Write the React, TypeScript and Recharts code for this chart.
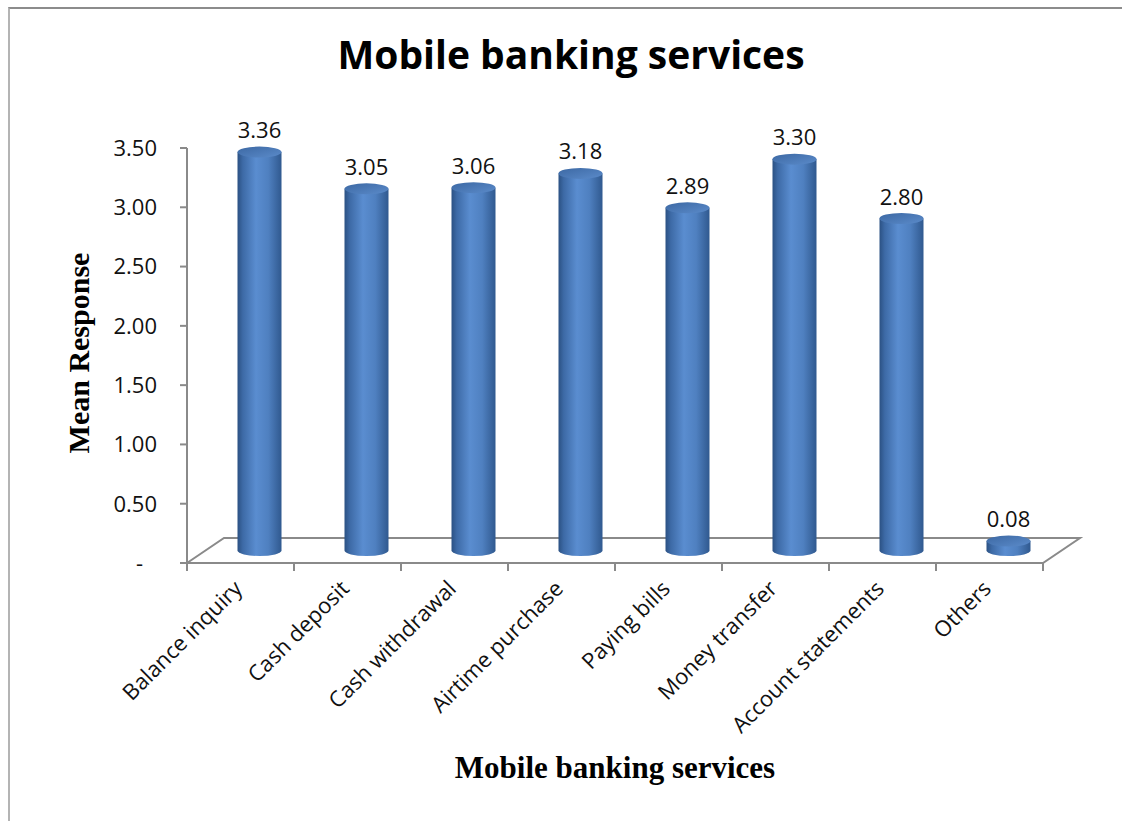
import { BarChart, Bar, XAxis, YAxis, LabelList, Customized } from 'recharts';

const categories = [
  'Balance inquiry',
  'Cash deposit',
  'Cash withdrawal',
  'Airtime purchase',
  'Paying bills',
  'Money transfer',
  'Account statements',
  'Others',
];
const meanResponse = [3.36, 3.05, 3.06, 3.18, 2.89, 3.3, 2.8, 0.08];
const yTicks = [0, 0.5, 1, 1.5, 2, 2.5, 3, 3.5];

const chartTitle = 'Mobile banking services';
const yTitle = 'Mean Response';
const xTitle = 'Mobile banking services';

const data = categories.map((name, i) => ({ name, value: meanResponse[i] }));

// layout
const W = 1122;
const H = 821;
const PLOT = { left: 187, top: 148, right: 1043, bottom: 563 };
const DEPTH = { dx: 37, dy: -25 };
const Y_AXIS_W = 80;
const X_AXIS_H = 150;
const BAND = (PLOT.right - PLOT.left) / categories.length;
const AXIS_GRAY = '#8a8a8a';
const TICK_FONT = '"Open Sans", sans-serif';

function Cylinder(props: any) {
  const { x, y, width, height } = props;
  if (x == null || y == null) return null;
  const rx = width / 2;
  const ry = 5.5;
  const cx = x + rx + DEPTH.dx / 2;
  const top = y + DEPTH.dy / 2;
  const base = y + height + DEPTH.dy / 2;
  const body = `M${cx - rx},${top} L${cx - rx},${base} A${rx},${ry} 0 0 0 ${cx + rx},${base} L${cx + rx},${top} Z`;
  return (
    <g>
      <path d={body} fill="url(#cylBody)" />
      <ellipse cx={cx} cy={top} rx={rx} ry={ry} fill="url(#cylTop)" />
    </g>
  );
}

function ValueLabel(props: any) {
  const { x, y, width, value } = props;
  return (
    <text
      x={x + width / 2 + DEPTH.dx / 2}
      y={y + DEPTH.dy / 2 - 14}
      textAnchor="middle"
      fontFamily={TICK_FONT}
      fontSize={22}
      fill="#111"
    >
      {Number(value).toFixed(2)}
    </text>
  );
}

function YTick(props: any) {
  const { x, y, payload } = props;
  const zero = payload.value === 0;
  return (
    <text
      x={zero ? x - 14 : x}
      y={y}
      dy="0.36em"
      textAnchor="end"
      fontFamily={TICK_FONT}
      fontSize={22}
      fill="#111"
    >
      {zero ? '-' : payload.value.toFixed(2)}
    </text>
  );
}

function XTick(props: any) {
  const { x, y, payload, index } = props;
  const half = BAND / 2;
  const last = index === categories.length - 1;
  return (
    <g>
      <line x1={x - half} x2={x - half} y1={y} y2={y + 8} stroke={AXIS_GRAY} strokeWidth={2} />
      {last && <line x1={x + half} x2={x + half} y1={y} y2={y + 8} stroke={AXIS_GRAY} strokeWidth={2} />}
      <text
        x={x + 3}
        y={y + 27}
        textAnchor="end"
        transform={`rotate(-45, ${x + 3}, ${y + 27})`}
        fontFamily={TICK_FONT}
        fontSize={22}
        fill="#111"
      >
        {payload.value}
      </text>
    </g>
  );
}

function Floor() {
  const { left, right, bottom } = PLOT;
  const pts = [
    [left, bottom],
    [left + DEPTH.dx, bottom + DEPTH.dy],
    [right + DEPTH.dx, bottom + DEPTH.dy],
    [right, bottom],
  ]
    .map((p) => p.join(','))
    .join(' ');
  return <polygon points={pts} fill="none" stroke={AXIS_GRAY} strokeWidth={2} />;
}

function Titles() {
  return (
    <g>
      <text
        x={571}
        y={69}
        textAnchor="middle"
        fontFamily='"Open Sans", sans-serif'
        fontWeight={700}
        fontSize={39}
        fill="#000"
      >
        {chartTitle}
      </text>
      <text
        x={89}
        y={353}
        textAnchor="middle"
        transform="rotate(-90, 89, 353)"
        fontFamily='"Liberation Serif", serif'
        fontWeight={700}
        fontSize={30}
        fill="#000"
      >
        {yTitle}
      </text>
      <text
        x={615}
        y={778}
        textAnchor="middle"
        fontFamily='"Liberation Serif", serif'
        fontWeight={700}
        fontSize={31}
        fill="#000"
      >
        {xTitle}
      </text>
    </g>
  );
}

export default function App() {
  return (
    <div style={{ position: 'absolute', left: 0, top: 0, width: W, height: H, background: '#fff', overflow: 'hidden' }}>
      {/* chart frame, only top and left edges are visible */}
      <div
        style={{
          position: 'absolute',
          left: 8,
          top: 7,
          width: W + 20,
          height: H + 20,
          borderTop: '2px solid #8c8c8c',
          borderLeft: '2px solid #b4b4b4',
          boxSizing: 'border-box',
        }}
      />
      <div style={{ position: 'absolute', left: 0, top: 0 }}>
        <BarChart
          width={W}
          height={H}
          data={data}
          margin={{
            top: PLOT.top,
            right: W - PLOT.right,
            bottom: H - PLOT.bottom - X_AXIS_H,
            left: PLOT.left - Y_AXIS_W,
          }}
        >
          <defs>
            <linearGradient id="cylBody" x1="0" y1="0" x2="1" y2="0">
              <stop offset="0%" stopColor="#2b5183" />
              <stop offset="12%" stopColor="#3d6aa6" />
              <stop offset="42%" stopColor="#5a8dd0" />
              <stop offset="70%" stopColor="#4f80c0" />
              <stop offset="100%" stopColor="#30598f" />
            </linearGradient>
            <linearGradient id="cylTop" x1="0" y1="0" x2="1" y2="1">
              <stop offset="0%" stopColor="#3c68a3" />
              <stop offset="100%" stopColor="#5b8bca" />
            </linearGradient>
          </defs>
          <Customized component={Floor} />
          <Customized component={Titles} />
          <YAxis
            width={Y_AXIS_W}
            domain={[0, 3.5]}
            ticks={yTicks}
            interval={0}
            tickSize={7}
            tickMargin={23}
            axisLine={{ stroke: AXIS_GRAY, strokeWidth: 2 }}
            tickLine={{ stroke: AXIS_GRAY, strokeWidth: 2 }}
            tick={<YTick />}
          />
          <XAxis
            dataKey="name"
            height={X_AXIS_H}
            interval={0}
            tickSize={0}
            tickMargin={0}
            axisLine={{ stroke: AXIS_GRAY, strokeWidth: 2 }}
            tickLine={false}
            tick={<XTick />}
          />
          <Bar dataKey="value" barSize={44} shape={<Cylinder />} isAnimationActive={false}>
            <LabelList dataKey="value" content={<ValueLabel />} />
          </Bar>
        </BarChart>
      </div>
    </div>
  );
}
